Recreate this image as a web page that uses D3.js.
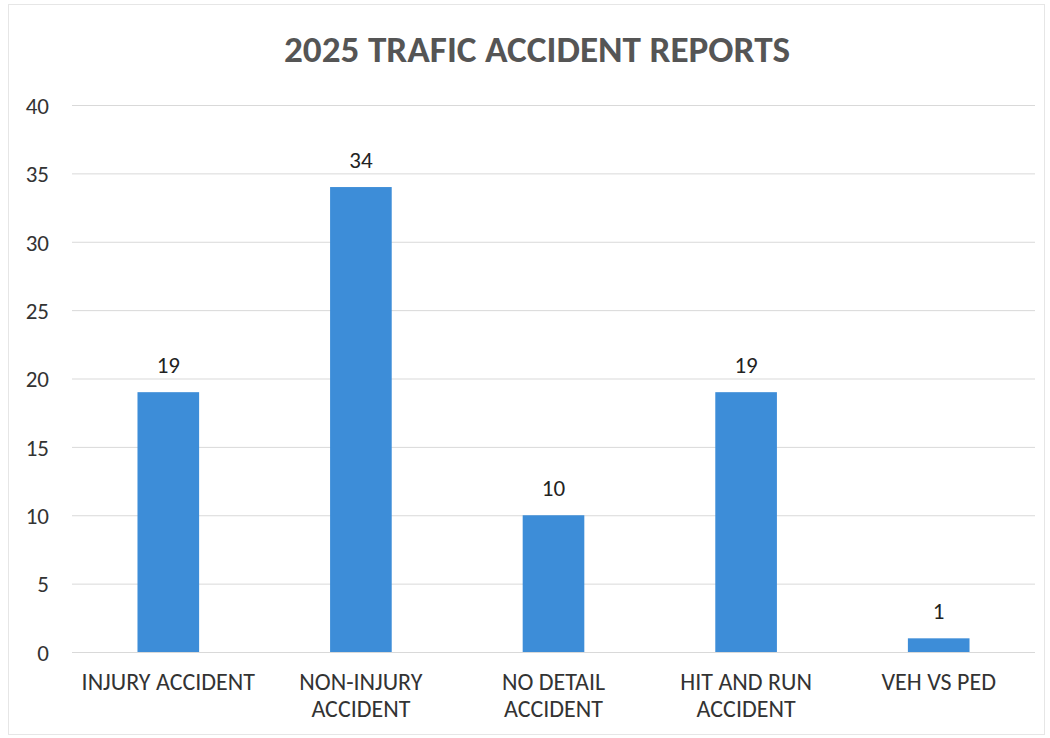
<!DOCTYPE html>
<html>
<head>
<meta charset="utf-8">
<script src="https://cdn.jsdelivr.net/npm/d3@7"></script>
<style>
  body { margin: 0; background: #fff; }
  text { font-family: Carlito, "Open Sans", sans-serif; }
</style>
</head>
<body>
<div id="chart"></div>
<script>
// Chart data
const categories = ["INJURY ACCIDENT", "NON-INJURY ACCIDENT", "NO DETAIL ACCIDENT", "HIT AND RUN ACCIDENT", "VEH VS PED"];
const tickLabels = [["INJURY ACCIDENT"], ["NON-INJURY", "ACCIDENT"], ["NO DETAIL", "ACCIDENT"], ["HIT AND RUN", "ACCIDENT"], ["VEH VS PED"]];
const counts = [19, 34, 10, 19, 1];
const yTicks = [0, 5, 10, 15, 20, 25, 30, 35, 40];

const W = 1050, H = 738;
const plot = { left: 72, right: 1035, top: 105, bottom: 652 };

const svg = d3.select("#chart")
    .append("svg")
    .attr("width", W)
    .attr("height", H);

// faint border of the chart area
svg.append("rect")
    .attr("x", 8.5).attr("y", 4.5)
    .attr("width", 1036).attr("height", 730)
    .attr("fill", "none")
    .attr("stroke", "#e6e6e6");

// Title
svg.append("text")
    .attr("x", 537)
    .attr("y", 62)
    .attr("text-anchor", "middle")
    .attr("font-size", 37)
    .attr("font-weight", "bold")
    .attr("fill", "#555")
    .attr("textLength", 506)
    .attr("lengthAdjust", "spacingAndGlyphs")
    .text("2025 TRAFIC ACCIDENT REPORTS");

// Scales
const x = d3.scaleBand()
    .domain(categories)
    .range([plot.left, plot.right])
    .paddingInner(0.68)
    .paddingOuter(0.34);

const y = d3.scaleLinear()
    .domain([0, 40])
    .range([plot.bottom, plot.top]);

// Gridlines
svg.append("g")
    .selectAll("line")
    .data(yTicks)
    .join("line")
    .attr("x1", plot.left)
    .attr("x2", plot.right)
    .attr("y1", d => y(d) + 0.5)
    .attr("y2", d => y(d) + 0.5)
    .attr("stroke", "#d9d9d9")
    .attr("stroke-width", 1);

// Y axis labels
const yAxis = d3.axisLeft(y).tickValues(yTicks).tickSize(0).tickPadding(0);
svg.append("g")
    .attr("transform", "translate(49,0)")
    .call(yAxis)
    .call(g => g.select(".domain").remove())
    .call(g => g.selectAll("text")
        .attr("font-size", 23)
        .attr("fill", "#333")
        .attr("dy", "0.36em")
        .attr("font-family", 'Carlito, "Open Sans", sans-serif'));

// Bars
svg.selectAll("rect.bar")
    .data(counts)
    .join("rect")
    .attr("class", "bar")
    .attr("x", (d, i) => x(categories[i]))
    .attr("y", d => y(d))
    .attr("width", x.bandwidth())
    .attr("height", d => y(0) - y(d))
    .attr("fill", "#3d8dd8");

// Data labels
svg.selectAll("text.val")
    .data(counts)
    .join("text")
    .attr("class", "val")
    .attr("x", (d, i) => x(categories[i]) + x.bandwidth() / 2)
    .attr("y", d => y(d) - 19)
    .attr("text-anchor", "middle")
    .attr("font-size", 23)
    .attr("fill", "#222")
    .text(d => d);

// Category labels
const cat = svg.append("g")
    .selectAll("text")
    .data(tickLabels)
    .join("text")
    .attr("x", (d, i) => x(categories[i]) + x.bandwidth() / 2)
    .attr("y", 690)
    .attr("text-anchor", "middle")
    .attr("font-size", 24)
    .attr("fill", "#333");

cat.selectAll("tspan")
    .data(d => d)
    .join("tspan")
    .attr("x", function () { return d3.select(this.parentNode).attr("x"); })
    .attr("dy", (d, i) => i === 0 ? 0 : 27)
    .text(d => d);
</script>
</body>
</html>
